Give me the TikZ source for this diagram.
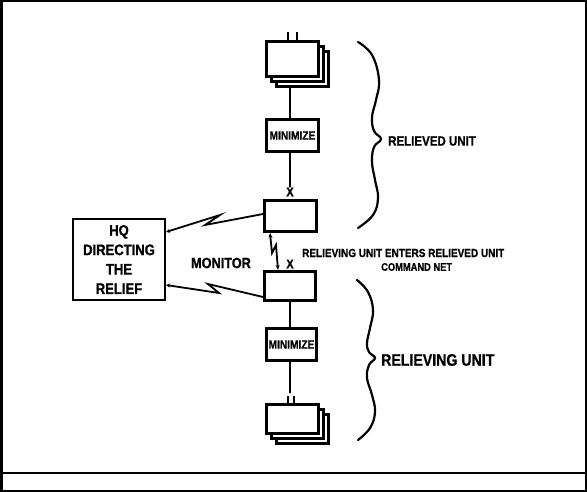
\documentclass[tikz,border=0pt]{standalone}
\usepackage{fontspec}
\setmainfont{Liberation Sans}
\newfontfamily\hv{Liberation Sans Bold}[FakeStretch=0.85,FakeBold=0.8]
\usetikzlibrary{arrows.meta}
\newcommand\myfs[1]{\fontsize{#1}{#1}\selectfont\hv}
\begin{document}
\begin{tikzpicture}[x=1bp,y=-1bp,
  box/.style={draw,line width=3bp,fill=white,inner sep=0pt,font=\myfs{12}},
  link/.style={line width=1.8bp},
  bracestyle/.style={line width=2.2bp,line cap=round},
  lbl/.style={inner sep=0pt,anchor=west},
  tip/.style={-{Stealth[length=4bp,width=4bp]}}]
\useasboundingbox (0,0) rectangle (587,492);
% frame
\draw[line width=2.5bp] (1.25,1.25) rectangle (585.75,490.75);
\draw[line width=1.5bp] (1.25,473) -- (585.75,473);

% top stack
\node[box,minimum width=52bp,minimum height=35bp] (s1c) at (302.5,69) {};
\node[box,minimum width=52bp,minimum height=35bp] (s1b) at (297.5,64) {};
\node[box,minimum width=52bp,minimum height=35bp] (s1a) at (292.5,59) {};
\draw[link] ([xshift=-4.5bp]s1a.north) -- ++(0,-8);
\draw[link] ([xshift=4.5bp]s1a.north) -- ++(0,-8);

% relieved unit column
\node[box,minimum width=52bp,minimum height=32bp] (min1) at (292.5,135.5) {MINIMIZE};
\node[box,minimum width=52bp,minimum height=31bp] (c1) at (290.5,216) {};
\node[inner sep=0pt,font=\myfs{13}] (x1) at (290,192) {X};
\draw[link] ([xshift=-2.5bp]min1.north |- s1c.south) -- ([xshift=-2.5bp]min1.north);
\draw[link] ([xshift=-2.5bp]min1.south) -- (x1.north);

% relieving unit column
\node[box,minimum width=51bp,minimum height=29bp] (c2) at (290,286) {};
\node[inner sep=0pt,font=\myfs{13}] (x2) at (290,264) {X};
\node[box,minimum width=50bp,minimum height=32bp] (min2) at (291.5,344.5) {MINIMIZE};
\draw[link] (c2.south) -- ([xshift=-1.5bp]min2.north);
\coordinate (e2) at (290,393);
\draw[link] ([xshift=-1.5bp]min2.south) -- (e2);

% bottom stack
\node[box,minimum width=52bp,minimum height=29bp] (s2c) at (302.5,429) {};
\node[box,minimum width=52bp,minimum height=29bp] (s2b) at (297.5,424) {};
\node[box,minimum width=52bp,minimum height=29bp] (s2a) at (292.5,419) {};
\draw[link] ([xshift=-4.5bp]s2a.north) -- ++(0,-7);
\draw[link] ([xshift=1.5bp]s2a.north) -- ++(0,-7);

% HQ
\node[draw,line width=2bp,minimum width=92bp,minimum height=81bp,inner sep=0pt,
      align=center,font=\fontsize{15.4}{19.5}\selectfont\hv] (hq) at (119,259.5)
  {HQ\\DIRECTING\\THE\\RELIEF};

% radio links
\draw[link,tip] (c1.west |- 0,214) -- (205,225) -- (220,215) -- (hq.east |- 0,232);
\draw[link,tip] (c2.west |- 0,297) -- (208,284) -- (219,293) -- (hq.east |- 0,285);
\draw[link,{Stealth[length=5bp,width=4bp]}-{Stealth[length=5bp,width=4bp]}]
  (c1.south -| 270,0) -- (272,253) -- (276,245) -- (c2.north -| 278,0);

% labels
\node[inner sep=0pt,font=\myfs{15}] (mon) at (221,263) {MONITOR};
\node[lbl,font=\myfs{11.8}] (t1) at (302,253) {RELIEVING UNIT ENTERS RELIEVED UNIT};
\node[lbl,font=\myfs{11}] (t2) at (381,267) {COMMAND NET};
\node[lbl,font=\myfs{13.6}] (ru1) at (388,141) {RELIEVED UNIT};
\node[lbl,font=\myfs{16.7}] (ru2) at (381,360) {RELIEVING UNIT};

% braces
\draw[bracestyle] plot[smooth,tension=0.7] coordinates {(358,42) (372,55) (379,80) (376,100) (372,117) (374,131) (381,139) (374,147) (372,162) (375,180) (378,198) (373,215) (358,228)};
\draw[bracestyle] plot[smooth,tension=0.7] coordinates {(357,280) (368,292) (373,310) (370,328) (367,343) (369,352) (375,358) (369,365) (367,378) (372,395) (375,412) (370,428) (358,440)};
\end{tikzpicture}
\end{document}
